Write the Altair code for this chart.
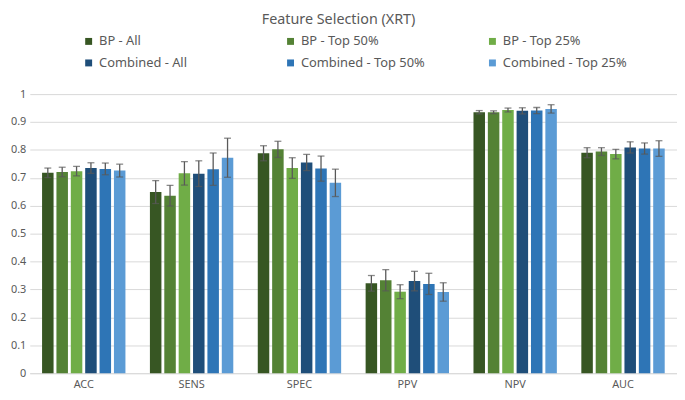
import altair as alt
import pandas as pd

metrics = ["ACC", "SENS", "SPEC", "PPV", "NPV", "AUC"]
series = ["BP - All", "BP - Top 50%", "BP  - Top 25%",
          "Combined - All", "Combined - Top 50%", "Combined - Top 25%"]
colors = ["#375623", "#548235", "#70AD47", "#1F4E79", "#2E75B6", "#5B9BD5"]

bp_all = [0.718, 0.649, 0.788, 0.322, 0.935, 0.790]
bp_50 = [0.721, 0.636, 0.802, 0.333, 0.935, 0.794]
bp_25 = [0.724, 0.716, 0.735, 0.292, 0.943, 0.785]
comb_all = [0.735, 0.715, 0.755, 0.330, 0.940, 0.809]
comb_50 = [0.732, 0.731, 0.733, 0.320, 0.941, 0.805]
comb_25 = [0.726, 0.772, 0.682, 0.291, 0.947, 0.805]

err_bp_all = [0.017, 0.041, 0.027, 0.028, 0.006, 0.018]
err_bp_50 = [0.017, 0.037, 0.029, 0.038, 0.005, 0.014]
err_bp_25 = [0.017, 0.042, 0.037, 0.025, 0.007, 0.017]
err_comb_all = [0.019, 0.046, 0.029, 0.035, 0.011, 0.020]
err_comb_50 = [0.021, 0.058, 0.045, 0.038, 0.011, 0.020]
err_comb_25 = [0.023, 0.070, 0.049, 0.033, 0.015, 0.028]

y_ticks = [0, 0.1, 0.2, 0.3, 0.4, 0.5, 0.6, 0.7, 0.8, 0.9, 1]

all_vals = [bp_all, bp_50, bp_25, comb_all, comb_50, comb_25]
all_errs = [err_bp_all, err_bp_50, err_bp_25, err_comb_all, err_comb_50, err_comb_25]

rows = []
for s, vals, errs in zip(series, all_vals, all_errs):
    for m, v, e in zip(metrics, vals, errs):
        rows.append({"metric": m, "series": s, "value": v, "err": e})
df = pd.DataFrame(rows)

GRAY = "#595959"
FONT = "Noto Sans"

x_enc = alt.X("metric:N", sort=metrics, title=None,
              scale=alt.Scale(paddingInner=0.227, paddingOuter=0.114),
              axis=alt.Axis(labelAngle=0, ticks=False, domain=True, domainColor="#d9d9d9",
                            labelColor=GRAY, labelFontSize=11, labelFont=FONT, labelPadding=5))
xoff = alt.XOffset("series:N", sort=series,
                   scale=alt.Scale(paddingInner=0.2, paddingOuter=0))
y_scale = alt.Scale(domain=[0, 1], nice=False)
y_axis = alt.Axis(values=y_ticks, format=".1~f", ticks=False, domain=False,
                  gridColor="#d9d9d9", labelColor=GRAY, labelFontSize=11,
                  labelFont=FONT, labelPadding=4, labelOverlap=False)

base = alt.Chart(df).transform_calculate(
    lo="datum.value - datum.err", hi="datum.value + datum.err")

bars = base.mark_bar().encode(
    x=x_enc,
    xOffset=xoff,
    y=alt.Y("value:Q", title=None, scale=y_scale, axis=y_axis),
    color=alt.Color("series:N", sort=series,
                    scale=alt.Scale(domain=series, range=colors),
                    legend=alt.Legend(title=None, orient="none", legendX=53, legendY=-60,
                                      direction="horizontal",
                                      columns=3, gridAlign="all", columnPadding=61,
                                      rowPadding=8, symbolType="square", symbolSize=49,
                                      symbolStrokeWidth=0, labelFontSize=13, labelFont=FONT,
                                      labelColor=GRAY, labelOffset=4, labelLimit=200)),
)

rules = base.mark_rule(color=GRAY, strokeWidth=1.3).encode(
    x=alt.X("metric:N", sort=metrics), xOffset=xoff,
    y=alt.Y("lo:Q", title=None, scale=y_scale, axis=y_axis), y2="hi:Q")

caps_lo = base.mark_tick(color=GRAY, thickness=1.3, size=7).encode(
    x=alt.X("metric:N", sort=metrics), xOffset=xoff,
    y=alt.Y("lo:Q", title=None, scale=y_scale, axis=y_axis))
caps_hi = base.mark_tick(color=GRAY, thickness=1.3, size=7).encode(
    x=alt.X("metric:N", sort=metrics), xOffset=xoff,
    y=alt.Y("hi:Q", title=None, scale=y_scale, axis=y_axis))

chart = alt.layer(bars, rules, caps_lo, caps_hi).properties(
    width=654, height=282,
    title=alt.TitleParams("Feature Selection (XRT)", fontSize=14.5, fontWeight="normal",
                          color=GRAY, font=FONT, anchor="middle", offset=7, dx=-15),
    autosize=alt.AutoSizeParams(type="none"),
    padding={"left": 22, "top": 85, "right": 0, "bottom": 17},
).configure_view(stroke=None)

chart.save("out.html", embed_options={"renderer": "svg", "actions": False})
